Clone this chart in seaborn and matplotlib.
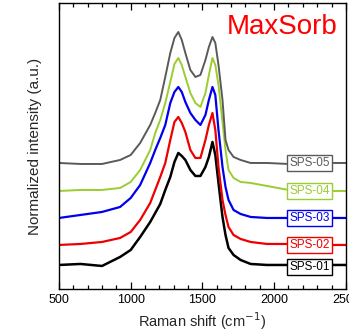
import numpy as np
import pandas as pd
import seaborn as sns
import matplotlib
matplotlib.use("Agg")
import matplotlib.pyplot as plt
from matplotlib.ticker import MultipleLocator

# Raman shift positions (cm-1)
shift = [500, 650, 800, 926, 1000, 1066, 1136, 1171, 1206, 1241, 1276, 1305,
         1332, 1356, 1381, 1416, 1451, 1486, 1521, 1545, 1570, 1590, 1612,
         1640, 1661, 1682, 1717, 1766, 1836, 1950, 2100, 2300, 2500]

# stacked, normalized intensities (a.u., offsets included as drawn)
sps_01 = [0.24, 0.25, 0.23, 0.32, 0.39, 0.52, 0.67, 0.76, 0.85, 0.99, 1.12, 1.27,
          1.36, 1.33, 1.29, 1.19, 1.13, 1.13, 1.22, 1.32, 1.47, 1.34, 1.06,
          0.72, 0.54, 0.41, 0.34, 0.29, 0.25, 0.24, 0.24, 0.24, 0.24]
sps_02 = [0.44, 0.45, 0.47, 0.51, 0.57, 0.69, 0.86, 0.99, 1.12, 1.26, 1.49, 1.67,
          1.72, 1.66, 1.57, 1.39, 1.31, 1.31, 1.49, 1.64, 1.76, 1.59, 1.22,
          0.89, 0.74, 0.62, 0.54, 0.50, 0.47, 0.45, 0.45, 0.44, 0.44]
sps_03 = [0.71, 0.74, 0.77, 0.82, 0.91, 1.04, 1.26, 1.39, 1.51, 1.64, 1.86, 1.97,
          2.02, 1.97, 1.87, 1.76, 1.69, 1.64, 1.74, 1.89, 2.02, 1.94, 1.59,
          1.22, 1.02, 0.89, 0.79, 0.75, 0.72, 0.71, 0.71, 0.71, 0.71]
sps_04 = [0.98, 0.99, 0.99, 1.01, 1.07, 1.19, 1.39, 1.56, 1.69, 1.86, 2.07, 2.25,
          2.31, 2.24, 2.12, 1.96, 1.86, 1.82, 1.96, 2.14, 2.31, 2.24, 2.04,
          1.67, 1.39, 1.19, 1.11, 1.07, 1.06, 1.03, 0.99, 0.98, 0.98]
sps_05 = [1.26, 1.25, 1.25, 1.29, 1.34, 1.46, 1.64, 1.76, 1.89, 2.12, 2.36, 2.51,
          2.57, 2.49, 2.36, 2.19, 2.12, 2.14, 2.29, 2.42, 2.52, 2.46, 2.24,
          1.89, 1.49, 1.39, 1.32, 1.29, 1.26, 1.26, 1.25, 1.26, 1.26]

samples = ["SPS-01", "SPS-02", "SPS-03", "SPS-04", "SPS-05"]
colors = ["#000000", "#ee0000", "#0000ee", "#9acd32", "#5a5a5a"]
widths = [1.8, 1.6, 1.6, 1.4, 1.4]  # noisier spectra look thicker
# where each label box sits (baseline level at the right)
label_y = [0.22, 0.44, 0.71, 0.98, 1.26]

df = pd.DataFrame({
    "shift": shift * 5,
    "intensity": sps_01 + sps_02 + sps_03 + sps_04 + sps_05,
    "sample": [s for s in samples for _ in shift],
})

sns.set_style("ticks")
plt.rcParams["font.family"] = ["Liberation Sans", "DejaVu Sans"]

fig = plt.figure(figsize=(3.49, 3.31), dpi=100)
ax = fig.add_axes([0.169, 0.127, 0.822, 0.864])

for name, c, lw in zip(samples, colors, widths):
    sns.lineplot(data=df[df["sample"] == name], x="shift", y="intensity",
                 color=c, linewidth=lw, ax=ax)

for name, c, yy in zip(samples, colors, label_y):
    ax.text(2249, yy, name, color=c, fontsize=8.5, ha="center", va="center",
            bbox=dict(boxstyle="square,pad=0.2", fc="white", ec=c, lw=1))

ax.text(0.97, 0.96, "MaxSorb", color="red", fontsize=20,
        ha="right", va="top", transform=ax.transAxes)

ax.set_xlim(500, 2500)
ax.set_ylim(0, 2.86)
ax.set_yticks([])
ax.xaxis.set_major_locator(MultipleLocator(500))
ax.xaxis.set_minor_locator(MultipleLocator(100))
ax.tick_params(axis="x", which="both", direction="in", top=True,
               labelsize=9, colors="black")
ax.tick_params(axis="x", which="major", length=5, width=0.9)
ax.tick_params(axis="x", which="minor", length=3, width=0.9)
for sp in ax.spines.values():
    sp.set_visible(True)
    sp.set_color("black")
    sp.set_linewidth(1)

ax.set_xlabel("Raman shift (cm$^{-1}$)", fontsize=10.5, labelpad=3)
ax.set_ylabel("Normalized intensity (a.u.)", fontsize=11, labelpad=12)

fig.savefig("out.png", dpi=100)
